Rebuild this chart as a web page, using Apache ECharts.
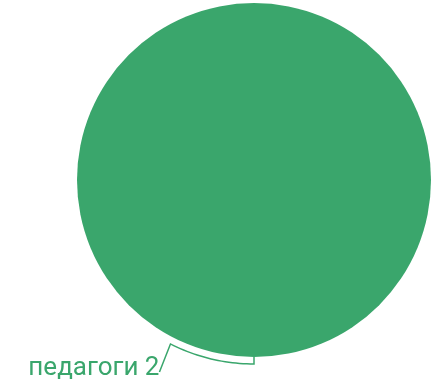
<!DOCTYPE html>
<html>
<head>
<meta charset="utf-8">
<script src="https://cdn.jsdelivr.net/npm/echarts@6/dist/echarts.min.js"></script>
<style>
html,body{margin:0;padding:0;background:#fff;}
#c{width:434px;height:384px;}
</style>
</head>
<body>
<div id="c"></div>
<script>
const categories = ["педагоги"];
const values = [2];
const colors = ["#3aa66c"];

const CX = 254, CY = 180, R = 177;
const chart = echarts.init(document.getElementById('c'), null, {renderer: 'canvas'});
chart.setOption({
  animation: false,
  series: [{
    type: 'pie',
    center: [CX, CY],
    radius: R,
    startAngle: 90,
    silent: true,
    data: categories.map((n, i) => ({name: n, value: values[i], itemStyle: {color: colors[i]}})),
    label: {
      show: true,
      position: 'outside',
      formatter: '{b} {c}',
      color: colors[0],
      fontFamily: 'Roboto',
      fontSize: 26
    },
    labelLine: {
      show: true,
      length: 7,
      length2: 10,
      lineStyle: {color: colors[0], width: 1.5}
    },
    labelLayout: function (params) {
      // arc offset from the slice edge, following the circle
      const r2 = R + 7;
      const pts = [[CX, CY + R], [CX, CY + r2]];
      const a0 = Math.PI / 2, a1 = 117 * Math.PI / 180;
      for (let k = 1; k <= 24; k++) {
        const a = a0 + (a1 - a0) * k / 24;
        pts.push([CX + r2 * Math.cos(a), CY + r2 * Math.sin(a)]);
      }
      const last = pts[pts.length - 1];
      const end = [last[0] - 11, last[1] + 28];
      pts.push(end);
      return {
        x: end[0],
        y: end[1] - 3,
        align: 'right',
        verticalAlign: 'middle',
        labelLinePoints: pts
      };
    }
  }]
});
</script>
</body>
</html>
